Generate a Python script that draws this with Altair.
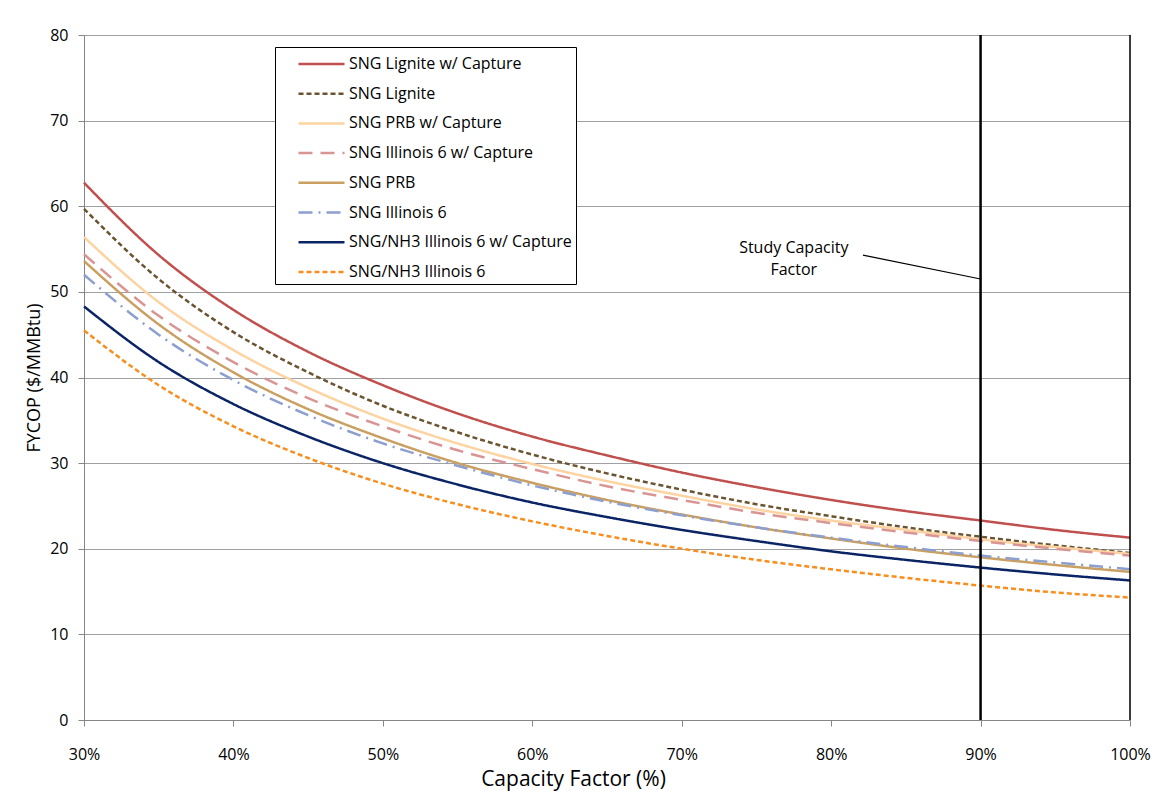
import altair as alt
import pandas as pd

# Capacity factor values (fraction)
cf = [0.30, 0.35, 0.40, 0.45, 0.50, 0.55, 0.60, 0.65, 0.70, 0.75, 0.80, 0.85, 0.90, 0.95, 1.00]

series_names = [
    "SNG Lignite w/ Capture",
    "SNG Lignite",
    "SNG PRB w/ Capture",
    "SNG Illinois 6 w/ Capture",
    "SNG PRB",
    "SNG Illinois 6",
    "SNG/NH3 Illinois 6 w/ Capture",
    "SNG/NH3 Illinois 6",
]

lignite_capture = [62.75, 54.3, 47.9, 43.0, 39.1, 35.8, 33.1, 30.9, 28.9, 27.2, 25.7, 24.4, 23.3, 22.2, 21.3]
lignite = [59.7, 51.5, 45.3, 40.6, 36.7, 33.6, 31.0, 28.8, 26.9, 25.2, 23.8, 22.5, 21.4, 20.4, 19.5]
prb_capture = [56.4, 48.8, 43.2, 38.8, 35.2, 32.3, 29.9, 27.9, 26.2, 24.6, 23.3, 22.2, 21.1, 20.2, 19.4]
ill6_capture = [54.4, 47.2, 41.8, 37.6, 34.3, 31.5, 29.3, 27.3, 25.7, 24.2, 23.0, 21.9, 20.9, 20.0, 19.2]
prb = [53.6, 46.2, 40.6, 36.3, 32.9, 30.0, 27.7, 25.7, 24.0, 22.5, 21.2, 20.0, 19.0, 18.1, 17.3]
ill6 = [52.0, 45.0, 39.7, 35.6, 32.3, 29.7, 27.4, 25.5, 23.9, 22.5, 21.3, 20.2, 19.2, 18.4, 17.6]
nh3_ill6_capture = [48.3, 41.8, 36.9, 33.1, 30.0, 27.5, 25.4, 23.7, 22.2, 20.9, 19.7, 18.7, 17.8, 17.0, 16.3]
nh3_ill6 = [45.5, 39.1, 34.3, 30.6, 27.6, 25.2, 23.2, 21.5, 20.0, 18.7, 17.6, 16.6, 15.7, 14.9, 14.3]

all_values = [lignite_capture, lignite, prb_capture, ill6_capture, prb, ill6, nh3_ill6_capture, nh3_ill6]

colors = ["#c0504d", "#6b5430", "#fcd3a1", "#d99594", "#c9a062", "#8c9fcf", "#0b2466", "#f88e1e"]
dashes = [[1, 0], [5, 3], [1, 0], [14, 8], [1, 0], [14, 6, 2, 6], [1, 0], [5, 3]]

x_ticks = [0.3, 0.4, 0.5, 0.6, 0.7, 0.8, 0.9, 1.0]
y_ticks = [0, 10, 20, 30, 40, 50, 60, 70, 80]

study_cf = [0.9]
right_edge = [1.0]
annot_text = ["Study Capacity", "Factor"]
annot_x = [0.775, 0.775]
annot_y = [55.1, 52.5]
leader_x = [0.8213]
leader_y = [54.3]
leader_x2 = [0.9]
leader_y2 = [51.5]

rows = []
for name, vals in zip(series_names, all_values):
    for x, y in zip(cf, vals):
        rows.append({"series": name, "cf": x, "fycop": y})
df = pd.DataFrame(rows)

FONT = "Open Sans"

x_enc = alt.X(
    "cf:Q",
    scale=alt.Scale(domain=[0.3, 1.0], nice=False, zero=False),
    axis=alt.Axis(
        values=x_ticks, format=".0%", title="Capacity Factor (%)", grid=False,
        labelFlush=False, labelOverlap=False,
        domainColor="#868686", tickColor="#868686", tickSize=6, labelPadding=20,
        labelFontSize=16, labelColor="black", titleFontSize=21, titleFontWeight="normal",
        titleColor="black", titlePadding=6, titleX=489, labelFont=FONT, titleFont=FONT,
    ),
)
y_enc = alt.Y(
    "fycop:Q",
    scale=alt.Scale(domain=[0, 80], nice=False),
    axis=alt.Axis(
        values=y_ticks, title="FYCOP ($/MMBtu)", grid=True, gridColor="#a0a0a0",
        gridWidth=1, domainColor="#868686", tickColor="#868686", tickSize=6,
        labelFlush=False, labelOverlap=False,
        labelPadding=10, labelFontSize=16, labelColor="black", titleFontSize=18,
        titleFontWeight="normal", titleColor="black", titlePadding=6,
        labelFont=FONT, titleFont=FONT,
    ),
)

legend = alt.Legend(
    title=None, orient="none", legendX=191, legendY=12,
    fillColor="white", strokeColor="black", padding=4,
    symbolType="M-1,0H3", symbolSize=529, symbolStrokeWidth=2.5,
    symbolOffset=18, labelOffset=26, rowPadding=8.7,
    labelFontSize=16, labelFont=FONT, labelColor="black", labelLimit=400,
)

lines = alt.Chart(df).mark_line(strokeWidth=2.5, interpolate="monotone").encode(
    x=x_enc,
    y=y_enc,
    color=alt.Color("series:N", scale=alt.Scale(domain=series_names, range=colors), legend=legend),
    strokeDash=alt.StrokeDash("series:N", scale=alt.Scale(domain=series_names, range=dashes), legend=legend),
)

vline = alt.Chart(pd.DataFrame({"cf": study_cf})).mark_rule(color="black", strokeWidth=2.5).encode(x="cf:Q")
rline = alt.Chart(pd.DataFrame({"cf": right_edge})).mark_rule(color="black", strokeWidth=1.5).encode(x="cf:Q")

annot = alt.Chart(pd.DataFrame({"t": annot_text, "cf": annot_x, "fycop": annot_y})).mark_text(
    fontSize=16, font=FONT, color="black", align="center", baseline="middle"
).encode(x="cf:Q", y="fycop:Q", text="t:N")

leader = alt.Chart(pd.DataFrame({"cf": leader_x, "fycop": leader_y, "cf2": leader_x2, "fycop2": leader_y2})).mark_rule(
    color="black", strokeWidth=1.2
).encode(x="cf:Q", y="fycop:Q", x2="cf2:Q", y2="fycop2:Q")

chart = alt.layer(lines, vline, rline, leader, annot).properties(
    width=1046, height=685,
    autosize=alt.AutoSizeParams(type="none"),
    padding={"left": 76, "top": 27, "right": 34, "bottom": 76},
).configure_view(stroke=None).configure(background="white")

chart.save("out.html", embed_options={"renderer": "svg", "actions": False})
